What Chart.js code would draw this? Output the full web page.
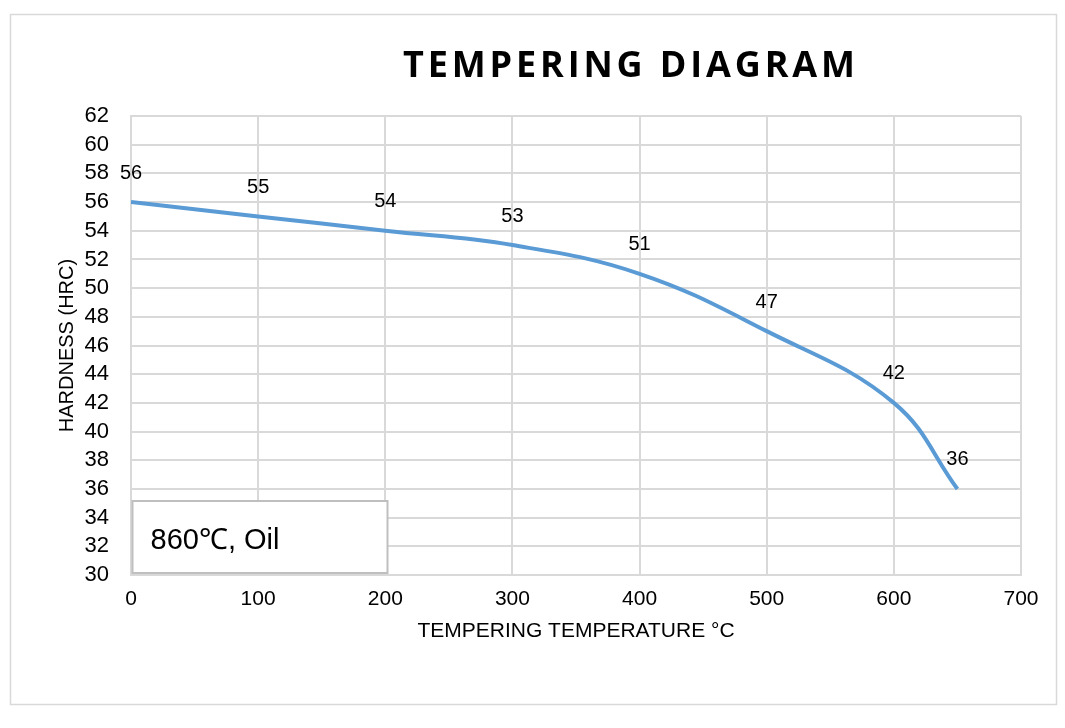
<!DOCTYPE html>
<html>
<head>
<meta charset="utf-8">
<script src="https://cdn.jsdelivr.net/npm/chart.js@4.4.1/dist/chart.umd.min.js"></script>
<style>
  html, body { margin: 0; padding: 0; background: #ffffff; }
  #wrap { position: relative; width: 1065px; height: 728px; }
</style>
</head>
<body>
<div id="wrap"><canvas id="c" width="1065" height="728"></canvas></div>
<script>
// ---- data ----
const temperatures = [0, 100, 200, 300, 400, 500, 600, 650];
const hardness = [56, 55, 54, 53, 51, 47, 42, 36];
const chartTitle = 'TEMPERING DIAGRAM';
const xTitle = 'TEMPERING TEMPERATURE °C';
const yTitle = 'HARDNESS (HRC)';
const noteText = '860℃, Oil';
const xRange = [0, 700, 100];
const yRange = [30, 62, 2];

const points = temperatures.map((t, i) => ({ x: t, y: hardness[i] }));

const decorPlugin = {
  id: 'decor',
  beforeDraw(chart) {
    const ctx = chart.ctx;
    ctx.save();
    ctx.fillStyle = '#ffffff';
    ctx.fillRect(0, 0, chart.width, chart.height);
    ctx.strokeStyle = '#d9d9d9';
    ctx.lineWidth = 1.5;
    ctx.strokeRect(10.5, 14.5, 1046, 690);
    // title
    ctx.fillStyle = '#000000';
    ctx.font = 'bold 36px "Open Sans"';
    ctx.textBaseline = 'alphabetic';
    ctx.textAlign = 'left';
    const base = ctx.measureText(chartTitle).width;
    const targetW = 452;
    const gap = (targetW - base) / (chartTitle.length - 1);
    let x = 629 - targetW / 2;
    for (const ch of chartTitle) {
      ctx.fillText(ch, x, 77);
      x += ctx.measureText(ch).width + gap;
    }
    ctx.restore();
  },
  afterDatasetsDraw(chart) {
    const ctx = chart.ctx;
    const meta = chart.getDatasetMeta(0);
    ctx.save();
    ctx.fillStyle = '#000000';
    ctx.font = '20px "Liberation Sans", Arial, sans-serif';
    ctx.textAlign = 'center';
    ctx.textBaseline = 'middle';
    meta.data.forEach((pt, i) => {
      ctx.fillText(String(hardness[i]), pt.x, pt.y - 29);
    });
    // note box
    const a = chart.chartArea;
    const bx = a.left + 1.5, by = a.bottom - 74, bw = 255, bh = 72;
    ctx.fillStyle = '#ffffff';
    ctx.fillRect(bx, by, bw, bh);
    ctx.strokeStyle = '#bfbfbf';
    ctx.lineWidth = 2;
    ctx.strokeRect(bx, by, bw, bh);
    ctx.fillStyle = '#000000';
    ctx.font = '29px "Liberation Sans", Arial, sans-serif';
    ctx.textAlign = 'left';
    ctx.textBaseline = 'alphabetic';
    ctx.fillText(noteText, bx + 18, by + 48);
    ctx.restore();
  }
};

new Chart(document.getElementById('c'), {
  type: 'line',
  data: {
    datasets: [{
      data: points,
      borderColor: '#5b9bd5',
      borderWidth: 4,
      pointRadius: 0,
      pointHoverRadius: 0,
      tension: 0.4,
      fill: false
    }]
  },
  options: {
    responsive: false,
    animation: false,
    devicePixelRatio: 1,
    layout: { padding: { left: 0, right: 44, top: 116, bottom: 0 } },
    plugins: {
      legend: { display: false },
      tooltip: { enabled: false },
      title: { display: false }
    },
    scales: {
      x: {
        type: 'linear',
        min: xRange[0], max: xRange[1],
        afterFit(s) { s.height = 153; },
        ticks: {
          stepSize: xRange[2],
          color: '#000000',
          padding: 12,
          font: { family: '"Liberation Sans", Arial, sans-serif', size: 21 }
        },
        grid: { color: '#d9d9d9', lineWidth: 2, drawTicks: false },
        border: { color: '#d9d9d9', width: 2 },
        title: {
          display: true,
          text: xTitle,
          color: '#000000',
          font: { family: '"Liberation Sans", Arial, sans-serif', size: 21 },
          padding: { top: 0, bottom: 84 }
        }
      },
      y: {
        min: yRange[0], max: yRange[1],
        afterFit(s) { s.width = 131; },
        ticks: {
          stepSize: yRange[2],
          autoSkip: false,
          color: '#000000',
          padding: 22,
          font: { family: '"Liberation Sans", Arial, sans-serif', size: 22, lineHeight: 1 }
        },
        grid: { color: '#d9d9d9', lineWidth: 2, drawTicks: false },
        border: { color: '#d9d9d9', width: 2 },
        title: {
          display: true,
          text: yTitle,
          color: '#000000',
          font: { family: '"Liberation Sans", Arial, sans-serif', size: 20 },
          padding: { top: 55, bottom: 0 }
        }
      }
    }
  },
  plugins: [decorPlugin]
});
</script>
</body>
</html>
